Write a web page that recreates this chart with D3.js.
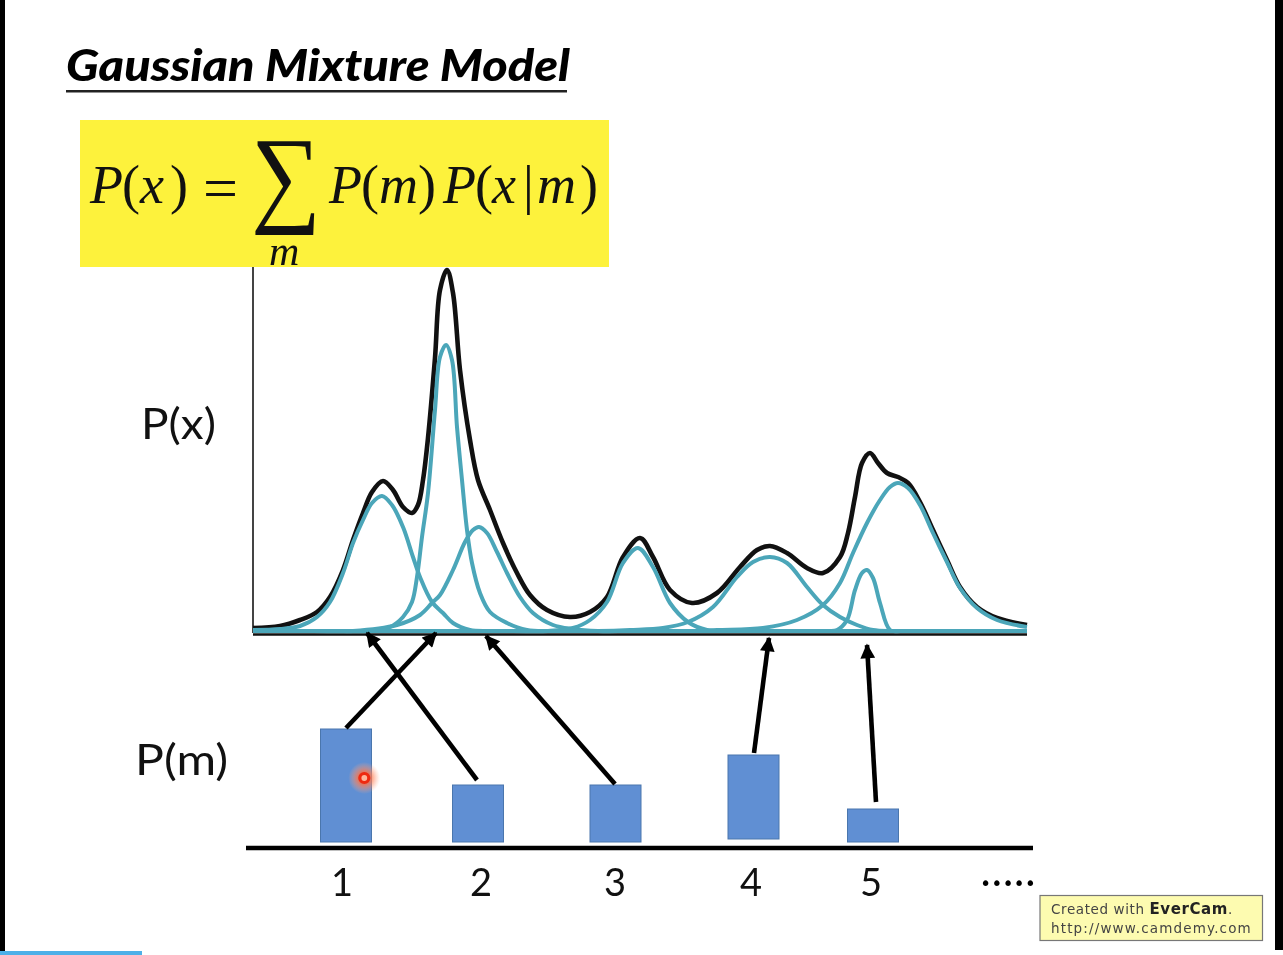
<!DOCTYPE html>
<html>
<head>
<meta charset="utf-8">
<script src="https://cdn.jsdelivr.net/npm/d3@7"></script>
<style>
html, body { margin: 0; padding: 0; background: #fff; overflow: hidden; }
svg { display: block; filter: blur(0.45px); }
</style>
</head>
<body>
<svg id="chart" width="1283" height="955"></svg>
<script>
"use strict";

// mixture curves: [x, height]
const totalCurve = [[0,5],[27,7],[47,13],[64,21],[77,36],[90,63],[100,93],[110,120],[119,141],[130,152],[140,143],[150,126],[159,120],[165,128],[170,153],[175,195],[182,275],[187,343],[194,363],[200,340],[207,263],[217,193],[225,153],[237,123],[250,90],[264,60],[277,38],[294,23],[317,16],[337,21],[354,36],[370,76],[387,95],[400,76],[417,43],[439,30],[464,40],[487,66],[504,83],[517,87],[534,80],[554,65],[570,60],[587,76],[595,100],[602,136],[609,170],[617,180],[625,170],[634,160],[645,156],[655,150],[667,131],[680,103],[694,73],[707,46],[724,26],[744,15],[774,8]];
const comp1 = [[0,3],[27,4],[47,7],[64,16],[77,31],[90,60],[100,90],[110,113],[119,130],[129,137],[139,128],[150,106],[160,76],[167,56],[179,31],[190,20],[200,10],[217,3],[237,2],[270,2],[400,2],[550,2],[774,2]];
const comp2 = [[0,2],[60,2],[90,2],[114,2],[137,6],[150,16],[159,31],[164,56],[169,96],[175,140],[182,223],[187,276],[193,288],[199,273],[204,206],[209,153],[214,103],[219,70],[227,40],[237,21],[254,10],[274,3],[300,2],[340,2],[500,2],[774,2]];
const comp3 = [[0,2],[60,2],[100,2],[144,8],[167,18],[179,30],[187,38],[200,63],[212,91],[220,103],[226,106],[234,100],[244,81],[254,60],[267,36],[280,20],[300,8],[320,4],[345,2],[380,2],[500,2],[774,2]];
const comp4 = [[0,2],[200,2],[260,2],[295,2],[320,5],[337,13],[354,31],[370,70],[385,85],[400,66],[417,30],[435,11],[454,3],[480,2],[520,2],[774,2]];
const comp5 = [[0,2],[200,2],[300,2],[345,2],[377,3],[410,5],[435,11],[460,26],[484,56],[500,71],[517,76],[534,70],[554,46],[570,28],[587,16],[604,8],[620,3],[640,2],[670,2],[774,2]];
const comp6 = [[0,2],[300,2],[500,2],[560,2],[576,2],[584,3],[594,13],[602,43],[609,60],[614,63],[620,55],[627,30],[637,3],[648,2],[670,2],[774,2]];
const comp7 = [[0,2],[200,2],[400,2],[440,2],[464,3],[510,5],[544,13],[570,28],[587,50],[600,80],[614,110],[627,133],[637,146],[645,150],[655,145],[667,128],[680,100],[694,71],[707,45],[724,25],[744,13],[774,6]];
const components = [comp1, comp2, comp3, comp4, comp5, comp6, comp7];

// P(m) bars
const barLabels = ["1", "2", "3", "4", "5"];
const barPos = [93, 225, 362.5, 500.5, 620];
const barHeights = [113, 57, 57, 84, 33];
const barBase = [0, 0, 0, 3, 0];
const labelPos = [89, 228, 362, 498, 618];

// arrows from the bars up to the components
const arrowFromX = [93, 224, 362, 501, 623];
const arrowFromY = [114, 62, 58, 89, 40];
const arrowToX = [183, 114, 233, 516, 614];
const arrowToY = [0, 0, -3, -5, -12];

const TEAL = "#4ba6b9";
const BAR_BLUE = "#608fd3";

const svg = d3.select("#chart");
const defs = svg.append("defs");

const xScale = d3.scaleLinear().domain([0, 774]).range([253, 1027]);
const yScale = d3.scaleLinear().domain([0, 363]).range([633, 270]);
const barY = d3.scaleLinear().domain([0, 113]).range([842, 729]);

// arrow head
defs.append("marker")
    .attr("id", "head")
    .attr("viewBox", "0 0 10 10")
    .attr("refX", 9)
    .attr("refY", 5)
    .attr("markerWidth", 3.4)
    .attr("markerHeight", 3.2)
    .attr("orient", "auto")
    .append("path")
    .attr("d", "M0,0L10,5L0,10Z")
    .attr("fill", "#000");

// pointer glow
const glow = defs.append("radialGradient").attr("id", "glow");
glow.append("stop").attr("offset", "0%").attr("stop-color", "#ff4a20").attr("stop-opacity", 1);
glow.append("stop").attr("offset", "45%").attr("stop-color", "#ff7a50").attr("stop-opacity", 0.75);
glow.append("stop").attr("offset", "100%").attr("stop-color", "#ffb090").attr("stop-opacity", 0);

// screen edges
svg.append("rect").attr("x", 0).attr("y", 0).attr("width", 5).attr("height", 951).attr("fill", "#000");
svg.append("rect").attr("x", 1275).attr("y", 0).attr("width", 8).attr("height", 950).attr("fill", "#000");
svg.append("rect").attr("x", 0).attr("y", 951).attr("width", 142).attr("height", 4).attr("fill", "#4db0e8");

// title
svg.append("text")
    .attr("x", 66).attr("y", 81)
    .attr("font-family", "Lato")
    .attr("font-weight", 900)
    .attr("font-style", "italic")
    .attr("font-size", 44)
    .attr("textLength", 504)
    .attr("lengthAdjust", "spacingAndGlyphs")
    .attr("fill", "#000")
    .text("Gaussian Mixture Model");
svg.append("rect").attr("x", 66).attr("y", 90).attr("width", 501).attr("height", 2.5).attr("fill", "#222");

// formula box
svg.append("rect").attr("x", 80).attr("y", 120).attr("width", 529).attr("height", 147).attr("fill", "#fdf23c");
const formula = svg.append("g")
    .attr("font-family", "Liberation Serif")
    .attr("fill", "#111");
const eqParts = [
    { t: "P", x: 90, it: true }, { t: "(", x: 122, it: false }, { t: "x", x: 140, it: true }, { t: ")", x: 170, it: false },
    { t: "P", x: 329, it: true }, { t: "(", x: 361, it: false }, { t: "m", x: 379, it: true }, { t: ")", x: 418, it: false },
    { t: "P", x: 443, it: true }, { t: "(", x: 475, it: false }, { t: "x", x: 492, it: true }, { t: "|", x: 523, it: false },
    { t: "m", x: 537, it: true }, { t: ")", x: 580, it: false }
];
formula.selectAll("text.eq")
    .data(eqParts)
    .join("text")
    .attr("class", "eq")
    .attr("x", d => d.x)
    .attr("y", 203)
    .attr("font-size", 54)
    .attr("font-style", d => d.it ? "italic" : "normal")
    .text(d => d.t);
formula.append("text")
    .attr("x", 203).attr("y", 209)
    .attr("font-size", 62)
    .text("=");
formula.append("text")
    .attr("x", 251).attr("y", 212)
    .attr("font-size", 108)
    .attr("textLength", 70)
    .attr("lengthAdjust", "spacingAndGlyphs")
    .text("\u2211");
formula.append("text")
    .attr("x", 269).attr("y", 265)
    .attr("font-size", 42)
    .attr("font-style", "italic")
    .text("m");

// axis labels
svg.append("text").attr("x", 141).attr("y", 439)
    .attr("font-family", "Lato").attr("font-size", 43).attr("fill", "#111")
    .attr("textLength", 75).attr("lengthAdjust", "spacingAndGlyphs").text("P(x)");
svg.append("text").attr("x", 135).attr("y", 775)
    .attr("font-family", "Lato").attr("font-size", 43).attr("fill", "#111")
    .attr("textLength", 93).attr("lengthAdjust", "spacingAndGlyphs").text("P(m)");

// plot axes
svg.append("line")
    .attr("x1", xScale(0)).attr("x2", xScale(0))
    .attr("y1", yScale(0)).attr("y2", yScale(366))
    .attr("stroke", "#444").attr("stroke-width", 2);

const line = d3.line()
    .x(d => xScale(d[0]))
    .y(d => yScale(d[1]))
    .curve(d3.curveCatmullRom.alpha(0.5));

svg.append("path")
    .attr("d", line(totalCurve))
    .attr("fill", "none")
    .attr("stroke", "#111")
    .attr("stroke-width", 4.6);

svg.append("line")
    .attr("x1", xScale(0)).attr("x2", xScale(774))
    .attr("y1", yScale(-1.5)).attr("y2", yScale(-1.5))
    .attr("stroke", "#111").attr("stroke-width", 2.5);

svg.selectAll("path.comp")
    .data(components)
    .join("path")
    .attr("class", "comp")
    .attr("d", d => line(d))
    .attr("fill", "none")
    .attr("stroke", TEAL)
    .attr("stroke-width", 4);

// bars
svg.selectAll("rect.bar")
    .data(barHeights)
    .join("rect")
    .attr("class", "bar")
    .attr("x", (d, i) => xScale(barPos[i]) - 25.5)
    .attr("y", (d, i) => barY(d + barBase[i]))
    .attr("width", 51)
    .attr("height", d => barY(0) - barY(d))
    .attr("fill", BAR_BLUE)
    .attr("stroke", "#4a76ad")
    .attr("stroke-width", 1);

svg.append("line")
    .attr("x1", 246).attr("x2", 1033)
    .attr("y1", 848).attr("y2", 848)
    .attr("stroke", "#000").attr("stroke-width", 4.5);

svg.selectAll("text.barLabel")
    .data(barLabels)
    .join("text")
    .attr("class", "barLabel")
    .attr("x", (d, i) => xScale(labelPos[i]))
    .attr("y", 896)
    .attr("text-anchor", "middle")
    .attr("font-family", "Lato")
    .attr("font-size", 38)
    .attr("fill", "#111")
    .text(d => d);

svg.append("text")
    .attr("x", 980).attr("y", 890)
    .attr("font-family", "DejaVu Sans")
    .attr("font-size", 19)
    .attr("fill", "#000")
    .text("\u2022\u2022\u2022\u2022\u2022");

// arrows
svg.selectAll("line.arrow")
    .data(arrowFromX)
    .join("line")
    .attr("class", "arrow")
    .attr("x1", d => xScale(d))
    .attr("y1", (d, i) => barY(arrowFromY[i]))
    .attr("x2", (d, i) => xScale(arrowToX[i]))
    .attr("y2", (d, i) => yScale(arrowToY[i]))
    .attr("stroke", "#000")
    .attr("stroke-width", 4.6)
    .attr("marker-end", "url(#head)");

// pointer
svg.append("circle").attr("cx", 364.3).attr("cy", 778).attr("r", 16).attr("fill", "url(#glow)");
svg.append("circle").attr("cx", 364.3).attr("cy", 778).attr("r", 4.5)
    .attr("fill", "#ffb59a").attr("stroke", "#ee2a10").attr("stroke-width", 3.2);

// watermark
svg.append("rect").attr("x", 1040).attr("y", 895.5).attr("width", 222.5).attr("height", 45)
    .attr("fill", "#fdfbb0").attr("stroke", "#777").attr("stroke-width", 1.2);
const mark = svg.append("text")
    .attr("x", 1051).attr("y", 914)
    .attr("font-family", "DejaVu Sans")
    .attr("font-size", 13.5)
    .attr("letter-spacing", 0.6)
    .attr("fill", "#444");
mark.append("tspan").text("Created with ");
mark.append("tspan").attr("font-weight", 700).attr("font-size", 15).attr("fill", "#222").text("EverCam");
mark.append("tspan").text(".");
svg.append("text")
    .attr("x", 1051).attr("y", 933)
    .attr("font-family", "DejaVu Sans")
    .attr("font-size", 13.5)
    .attr("letter-spacing", 1.15)
    .attr("fill", "#444")
    .text("http://www.camdemy.com");
</script>
</body>
</html>
